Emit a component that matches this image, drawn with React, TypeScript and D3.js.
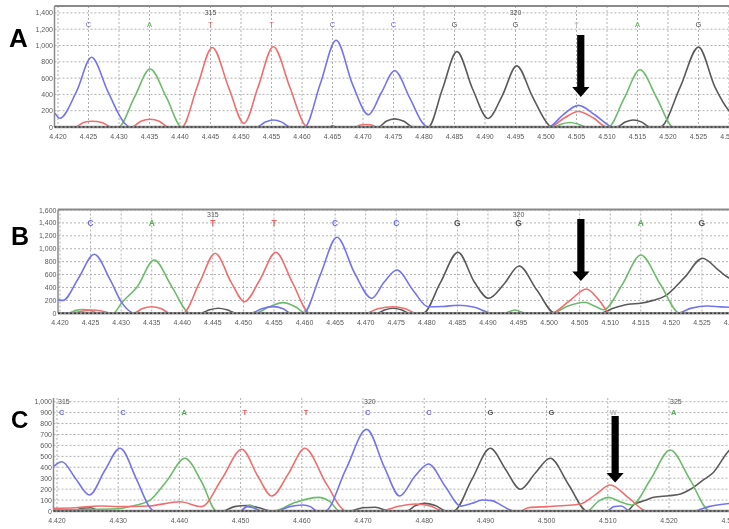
import React from "react";
import * as d3 from "d3";

type P = [number, number];

// ---------- Panel A traces [position, signal] ----------
const A_blue: P[] = [
  [4.4195, 170], [4.4203, 107], [4.423, 430], [4.4255, 855], [4.4282, 430], [4.431, 40], [4.4318, 0],
  [4.4526, 0], [4.454, 60], [4.4553, 85], [4.4567, 60], [4.458, 0],
  [4.4604, 0], [4.463, 530], [4.4656, 1065], [4.4683, 520], [4.4709, 150], [4.473, 420], [4.4752, 690], [4.4777, 350], [4.48, 30], [4.4807, 0],
  [4.5004, 0], [4.5028, 150], [4.5053, 265], [4.508, 150], [4.5105, 10], [4.5108, 0], [4.531, 0],
];
const A_red: P[] = [
  [4.4195, 0], [4.4228, 0], [4.4242, 55], [4.4256, 70], [4.4272, 55], [4.4288, 0],
  [4.4321, 0], [4.4336, 70], [4.4351, 95], [4.4366, 70], [4.4381, 0],
  [4.4403, 0], [4.4428, 490], [4.4453, 975], [4.448, 480], [4.4505, 45], [4.4528, 490], [4.4553, 985], [4.458, 490], [4.4604, 30], [4.4608, 0],
  [4.4687, 0], [4.4696, 25], [4.4705, 30], [4.4714, 25], [4.4722, 0],
  [4.5006, 0], [4.503, 110], [4.5053, 190], [4.5078, 110], [4.51, 0], [4.531, 0],
];
const A_green: P[] = [
  [4.4195, 0], [4.4299, 0], [4.4325, 360], [4.4351, 712], [4.4378, 360], [4.4403, 0],
  [4.5012, 0], [4.5025, 35], [4.5039, 55], [4.5053, 35], [4.5066, 0],
  [4.5102, 0], [4.5128, 350], [4.5154, 703], [4.5182, 350], [4.5209, 0], [4.531, 0],
];
const A_black: P[] = [
  [4.4195, 0], [4.4645, 0], [4.465, 15], [4.4655, 0],
  [4.4725, 0], [4.4738, 70], [4.4752, 100], [4.4767, 70], [4.4782, 0],
  [4.4807, 0], [4.483, 460], [4.4854, 925], [4.488, 460], [4.4905, 105], [4.4928, 380], [4.4952, 750], [4.4978, 370], [4.5005, 20], [4.5009, 0],
  [4.5116, 0], [4.513, 60], [4.5143, 85], [4.5157, 60], [4.517, 0],
  [4.5187, 0], [4.522, 490], [4.525, 980], [4.5277, 490], [4.53, 200], [4.531, 130],
];

// ---------- Panel B traces ----------
const B_blue: P[] = [
  [4.4196, 210], [4.4205, 200], [4.423, 540], [4.4256, 914], [4.4282, 520], [4.4301, 165], [4.4323, 0],
  [4.4511, 0], [4.453, 70], [4.4549, 103], [4.4565, 70], [4.4578, 0],
  [4.4598, 0], [4.4626, 600], [4.4653, 1178], [4.4682, 620], [4.471, 232], [4.473, 480], [4.4751, 671], [4.4778, 350], [4.4802, 102], [4.4825, 105], [4.4851, 124], [4.4878, 95], [4.4895, 30], [4.4905, 0],
  [4.5209, 0], [4.5233, 80], [4.5258, 113], [4.528, 100], [4.531, 85],
];
const B_red: P[] = [
  [4.4196, 0], [4.4215, 0], [4.424, 40], [4.4255, 50], [4.4268, 35], [4.4285, 0],
  [4.432, 0], [4.4335, 75], [4.435, 102], [4.4365, 75], [4.438, 0],
  [4.4401, 0], [4.4428, 470], [4.4454, 930], [4.448, 480], [4.4502, 180], [4.4527, 520], [4.4553, 945], [4.458, 480], [4.4609, 0],
  [4.4699, 0], [4.472, 70], [4.4745, 102], [4.4765, 70], [4.4783, 0],
  [4.5003, 0], [4.5033, 190], [4.5061, 377], [4.5082, 200], [4.51, 0], [4.531, 0],
];
const B_green: P[] = [
  [4.4196, 0], [4.4213, 0], [4.4226, 45], [4.4238, 60], [4.425, 45], [4.4262, 0],
  [4.4287, 0], [4.4301, 165], [4.4327, 420], [4.4354, 826], [4.4383, 410], [4.4413, 0],
  [4.4519, 0], [4.4542, 100], [4.4565, 165], [4.4585, 100], [4.4603, 0],
  [4.4925, 0], [4.4944, 50], [4.4963, 0],
  [4.5004, 0], [4.503, 110], [4.5058, 170], [4.5075, 110], [4.5089, 55], [4.512, 450], [4.515, 904], [4.5182, 450], [4.5214, 0], [4.531, 0],
];
const B_black: P[] = [
  [4.4196, 0], [4.4429, 0], [4.4445, 55], [4.4459, 78], [4.4473, 55], [4.4489, 0],
  [4.4718, 0], [4.4732, 55], [4.4745, 78], [4.4758, 55], [4.4772, 0],
  [4.4794, 0], [4.4822, 470], [4.4851, 945], [4.4878, 480], [4.4901, 232], [4.4926, 450], [4.4951, 733], [4.498, 360], [4.501, 0],
  [4.5083, 0], [4.5105, 78], [4.513, 140], [4.515, 155], [4.517, 200], [4.519, 270], [4.5222, 560], [4.5251, 853], [4.5278, 660], [4.5295, 543], [4.531, 500],
];

// ---------- Panel C traces ----------
const C_blue: P[] = [
  [4.4194, 405], [4.4208, 451], [4.423, 300], [4.4253, 146], [4.4278, 370], [4.4303, 574], [4.433, 290], [4.4352, 30], [4.4358, 0],
  [4.4499, 0], [4.451, 40], [4.452, 30], [4.4535, 0],
  [4.4558, 0], [4.458, 40], [4.4602, 55], [4.4614, 40], [4.4625, 0],
  [4.4638, 0], [4.4672, 380], [4.4706, 747], [4.4735, 400], [4.476, 137], [4.4785, 320], [4.4807, 430], [4.4835, 220], [4.486, 45], [4.4878, 70], [4.4895, 100], [4.491, 95], [4.493, 40], [4.4946, 0],
  [4.5098, 0], [4.511, 40], [4.5122, 46], [4.5136, 0],
  [4.524, 0], [4.5265, 40], [4.531, 75],
];
const C_red: P[] = [
  [4.4194, 25], [4.423, 30], [4.427, 46], [4.43, 40], [4.435, 46], [4.4401, 85], [4.4436, 40], [4.447, 300], [4.4502, 565], [4.4528, 320], [4.4551, 137], [4.4578, 340], [4.4605, 574], [4.464, 250], [4.4673, 0],
  [4.4728, 0], [4.476, 45], [4.4785, 64], [4.481, 45], [4.4832, 0],
  [4.4957, 0], [4.497, 30], [4.5, 40], [4.503, 50], [4.5055, 64], [4.508, 150], [4.5104, 238], [4.5134, 120], [4.5164, 0], [4.531, 0],
];
const C_green: P[] = [
  [4.4194, 10], [4.43, 20], [4.4314, 34], [4.433, 55], [4.4352, 100], [4.438, 280], [4.4409, 482], [4.4436, 270], [4.4461, 0],
  [4.4499, 0], [4.4515, 55], [4.4532, 0],
  [4.4553, 0], [4.459, 80], [4.4627, 125], [4.4645, 90], [4.4662, 0],
  [4.5066, 0], [4.5085, 90], [4.5101, 125], [4.512, 85], [4.5139, 55], [4.517, 290], [4.5202, 558], [4.5235, 280], [4.5267, 0], [4.531, 0],
];
const C_black: P[] = [
  [4.4194, 0], [4.4226, 0], [4.424, 25], [4.4255, 30], [4.427, 0],
  [4.447, 0], [4.449, 40], [4.451, 50], [4.453, 30], [4.455, 0],
  [4.4679, 0], [4.47, 30], [4.472, 34], [4.4744, 0],
  [4.4771, 0], [4.4786, 50], [4.4801, 70], [4.4818, 50], [4.4837, 0],
  [4.4848, 0], [4.4878, 290], [4.4908, 574], [4.4933, 380], [4.4957, 199], [4.4982, 350], [4.5006, 482], [4.5036, 240], [4.5066, 0],
  [4.5131, 0], [4.5143, 60], [4.516, 95], [4.5175, 125], [4.52, 140], [4.5219, 156], [4.5235, 199], [4.5255, 280], [4.5272, 350], [4.5299, 558], [4.531, 600],
];

// ---------- Axes ----------
const A_yTicks = [0, 200, 400, 600, 800, 1000, 1200, 1400];
const B_yTicks = [0, 200, 400, 600, 800, 1000, 1200, 1400, 1600];
const C_yTicks = [0, 100, 200, 300, 400, 500, 600, 700, 800, 900, 1000];
const AB_xTicks = [4.42, 4.425, 4.43, 4.435, 4.44, 4.445, 4.45, 4.455, 4.46, 4.465, 4.47, 4.475, 4.48, 4.485, 4.49, 4.495, 4.5, 4.505, 4.51, 4.515, 4.52, 4.525, 4.53];
const C_xTicks = [4.42, 4.43, 4.44, 4.45, 4.46, 4.47, 4.48, 4.49, 4.5, 4.51, 4.52, 4.53];

// ---------- Base calls ----------
const A_bases = ["C", "A", "T", "T", "C", "C", "G", "G", "Y", "A", "G"];
const A_basePos = [4.425, 4.435, 4.445, 4.455, 4.465, 4.475, 4.485, 4.495, 4.505, 4.515, 4.525];
const B_bases = ["C", "A", "T", "T", "C", "C", "G", "G", "A", "G"];
const B_basePos = [4.425, 4.435, 4.445, 4.455, 4.465, 4.475, 4.485, 4.495, 4.515, 4.525];
const C_bases = ["C", "C", "A", "T", "T", "C", "C", "G", "G", "W", "A", "G"];
const C_basePos = [4.42, 4.43, 4.44, 4.45, 4.46, 4.47, 4.48, 4.49, 4.5, 4.51, 4.52, 4.53];
const A_numbers = ["315", "320"];
const A_numberPos = [4.445, 4.495];
const B_numbers = ["315", "320"];
const B_numberPos = [4.445, 4.495];
const C_numbers = ["315", "320", "325"];
const C_numberPos = [4.42, 4.47, 4.52];

const COLORS: Record<string, string> = {
  blue: "#7474ee",
  red: "#f06e6e",
  green: "#6cbc6c",
  black: "#5a5a5a",
};
const BASE_COLORS: Record<string, string> = {
  C: "#6a6ae6",
  A: "#4fae4f",
  T: "#ea5a5a",
  G: "#555",
  Y: "#b8b8b8",
  W: "#b8b8b8",
};

interface PanelCfg {
  id: string;
  letter: string;
  letterX: number;
  letterY: number;
  letterSize: number;
  x0: number;
  x1: number;
  left: number;
  top: number;
  base: number;
  yTopPx: number;
  yMax: number;
  yTicks: number[];
  xTicks: number[];
  traces: { color: string; data: P[] }[];
  bases: string[];
  basePos: number[];
  baseY: number;
  baseAnchor: "middle" | "start";
  baseDx: number;
  baseSize: number;
  baseWeight: number;
  nums: string[];
  numPos: number[];
  numY: number;
  arrowPos: number;
  arrowTop: number;
  arrowHeadTop: number;
  arrowTip: number;
  topBorder: string;
}

const panels: PanelCfg[] = [
  {
    id: "A", letter: "A", letterX: 9, letterY: 47, letterSize: 26,
    x0: 58, x1: 729, left: 54.5, top: 6, base: 127, yTopPx: 12.9, yMax: 1400,
    yTicks: A_yTicks, xTicks: AB_xTicks,
    traces: [
      { color: COLORS.black, data: A_black },
      { color: COLORS.green, data: A_green },
      { color: COLORS.red, data: A_red },
      { color: COLORS.blue, data: A_blue },
    ],
    bases: A_bases, basePos: A_basePos, baseY: 26.5, baseAnchor: "middle", baseDx: 0, baseSize: 7.5, baseWeight: 400,
    nums: A_numbers, numPos: A_numberPos, numY: 14.5,
    arrowPos: 4.5057, arrowTop: 35, arrowHeadTop: 87, arrowTip: 97, topBorder: "#8a8a8a",
  },
  {
    id: "B", letter: "B", letterX: 11, letterY: 245, letterSize: 25,
    x0: 60, x1: 732.5, left: 58, top: 209.5, base: 313.3, yTopPx: 210, yMax: 1600,
    yTicks: B_yTicks, xTicks: AB_xTicks,
    traces: [
      { color: COLORS.black, data: B_black },
      { color: COLORS.green, data: B_green },
      { color: COLORS.red, data: B_red },
      { color: COLORS.blue, data: B_blue },
    ],
    bases: B_bases, basePos: B_basePos, baseY: 226, baseAnchor: "middle", baseDx: 0, baseSize: 8.5, baseWeight: 700,
    nums: B_numbers, numPos: B_numberPos, numY: 216.5,
    arrowPos: 4.5052, arrowTop: 219, arrowHeadTop: 271.5, arrowTip: 281, topBorder: "#8a8a8a",
  },
  {
    id: "C", letter: "C", letterX: 11, letterY: 428, letterSize: 24,
    x0: 57, x1: 730.2, left: 53.5, top: 398, base: 511, yTopPx: 401.7, yMax: 1000,
    yTicks: C_yTicks, xTicks: C_xTicks,
    traces: [
      { color: COLORS.black, data: C_black },
      { color: COLORS.green, data: C_green },
      { color: COLORS.red, data: C_red },
      { color: COLORS.blue, data: C_blue },
    ],
    bases: C_bases, basePos: C_basePos, baseY: 414.5, baseAnchor: "start", baseDx: 2, baseSize: 7.5, baseWeight: 700,
    nums: C_numbers, numPos: C_numberPos, numY: 404,
    arrowPos: 4.5112, arrowTop: 416, arrowHeadTop: 473, arrowTip: 482.5, topBorder: "none",
  },
];

const fmtY = d3.format(",");
const fmtX = d3.format(".3f");
const FONT = "'Liberation Sans', Arial, sans-serif";

function Panel({ cfg }: { cfg: PanelCfg }) {
  const x = d3.scaleLinear().domain([4.42, 4.53]).range([cfg.x0, cfg.x1]);
  const y = d3.scaleLinear().domain([0, cfg.yMax]).range([cfg.base, cfg.yTopPx]);
  const line = d3
    .line<P>()
    .x((d) => x(d[0]))
    .y((d) => y(d[1]))
    .curve(d3.curveMonotoneX);
  const clipId = `clip-${cfg.id}`;
  const ax = x(cfg.arrowPos);
  const shaftHW = 3.6;
  const headHW = 8.6;
  const arrowPath = [
    `M${ax - shaftHW},${cfg.arrowTop}`,
    `L${ax + shaftHW},${cfg.arrowTop}`,
    `L${ax + shaftHW},${cfg.arrowHeadTop}`,
    `L${ax + headHW},${cfg.arrowHeadTop}`,
    `L${ax},${cfg.arrowTip}`,
    `L${ax - headHW},${cfg.arrowHeadTop}`,
    `L${ax - shaftHW},${cfg.arrowHeadTop}`,
    "Z",
  ].join(" ");
  return (
    <g>
      <defs>
        <clipPath id={clipId}>
          <rect x={cfg.left} y={cfg.top} width={729 - cfg.left} height={cfg.base - cfg.top + 1} />
        </clipPath>
      </defs>
      {/* grid */}
      {cfg.yTicks.map((t) => (
        <line key={`gy${t}`} x1={cfg.left} x2={729} y1={y(t)} y2={y(t)} stroke="#b0b0b0" strokeWidth={1} strokeDasharray="2,2" />
      ))}
      {cfg.xTicks.map((t) => (
        <line key={`gx${t}`} x1={x(t)} x2={x(t)} y1={cfg.top} y2={cfg.base} stroke="#b0b0b0" strokeWidth={1} strokeDasharray="2,2" />
      ))}
      {/* frame */}
      {cfg.topBorder !== "none" && (
        <line x1={cfg.left} x2={729} y1={cfg.top} y2={cfg.top} stroke={cfg.topBorder} strokeWidth={2} />
      )}
      <line x1={cfg.left} x2={cfg.left} y1={cfg.top} y2={cfg.base} stroke="#8a8a8a" strokeWidth={1.5} />
      {/* traces */}
      <g clipPath={`url(#${clipId})`}>
        {cfg.traces.map((tr, i) => (
          <path key={i} d={line(tr.data) || ""} fill="none" stroke={tr.color} strokeWidth={1.6} strokeLinejoin="round" />
        ))}
      </g>
      {/* baseline */}
      <line x1={cfg.left} x2={729} y1={cfg.base} y2={cfg.base} stroke="#8c8c8c" strokeWidth={2.6} />
      <line x1={cfg.left} x2={729} y1={cfg.base} y2={cfg.base} stroke="#3c3c3c" strokeWidth={1.4} strokeDasharray="2,2" />
      {/* y tick labels */}
      {cfg.yTicks.map((t) => (
        <text key={`ty${t}`} x={cfg.left - 1.5} y={y(t) + 2.5} fontSize={7} fill="#5a5a5a" textAnchor="end" fontFamily={FONT}>
          {fmtY(t)}
        </text>
      ))}
      {/* x tick labels */}
      {cfg.xTicks.map((t) => (
        <text key={`tx${t}`} x={x(t)} y={cfg.base + 11.5} fontSize={7} fill="#5a5a5a" textAnchor="middle" fontFamily={FONT}>
          {fmtX(t)}
        </text>
      ))}
      {/* base calls */}
      {cfg.bases.map((b, i) => (
        <text key={`b${i}`} x={x(cfg.basePos[i]) + cfg.baseDx} y={cfg.baseY} fontSize={cfg.baseSize} fontWeight={cfg.baseWeight}
          fill={BASE_COLORS[b]} textAnchor={cfg.baseAnchor} fontFamily={FONT}>
          {b}
        </text>
      ))}
      {cfg.nums.map((n, i) => (
        <text key={`n${i}`} x={x(cfg.numPos[i]) + (cfg.baseAnchor === "start" ? 1 : 0)} y={cfg.numY} fontSize={7} fill="#555"
          textAnchor={cfg.baseAnchor} fontFamily={FONT}>
          {n}
        </text>
      ))}
      {/* arrow */}
      <path d={arrowPath} fill="#000" />
      {/* panel letter */}
      <text x={cfg.letterX} y={cfg.letterY} fontSize={cfg.letterSize} fontWeight={700} fill="#000" fontFamily={FONT}>
        {cfg.letter}
      </text>
    </g>
  );
}

export default function App() {
  return (
    <svg width={729} height={529} viewBox="0 0 729 529"
      style={{ position: "absolute", left: 0, top: 0, background: "#fff", willChange: "transform" }}>
      <rect x={0} y={0} width={729} height={529} fill="#fff" />
      {panels.map((p) => (
        <Panel key={p.id} cfg={p} />
      ))}
    </svg>
  );
}
